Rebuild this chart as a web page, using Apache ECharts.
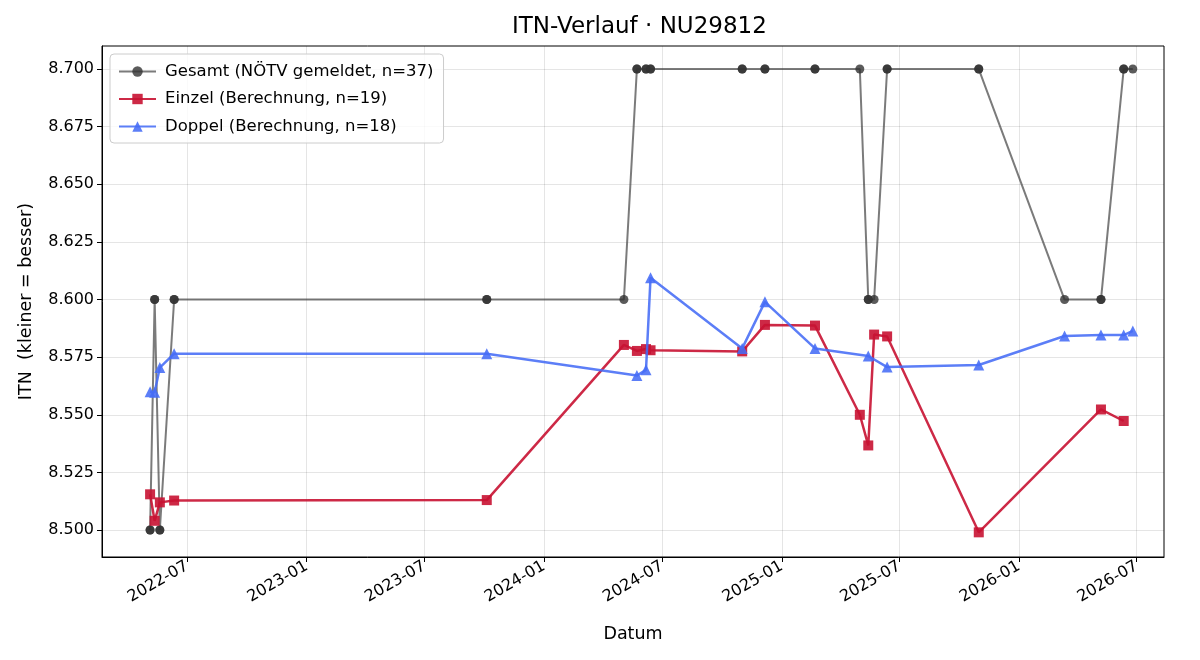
<!DOCTYPE html>
<html>
<head>
<meta charset="utf-8">
<title>ITN-Verlauf</title>
<script src="https://cdn.jsdelivr.net/npm/echarts@6/dist/echarts.min.js"></script>
<style>
  html, body { margin: 0; padding: 0; background: #fff; }
  #chart { width: 1200px; height: 660px; }
</style>
</head>
<body>
<div id="chart"></div>
<script>
// Gesamt (NÖTV gemeldet) – eine Meldung pro Einzel-/Doppel-Berechnung
const gesamtDates = [
  '2022-05-05', '2022-05-05', '2022-05-12', '2022-05-12', '2022-05-20', '2022-05-20',
  '2022-06-11', '2022-06-11', '2023-10-05', '2023-10-05', '2024-05-03', '2024-05-23',
  '2024-05-23', '2024-06-06', '2024-06-06', '2024-06-13', '2024-06-13', '2024-11-01',
  '2024-11-01', '2024-12-06', '2024-12-06', '2025-02-21', '2025-02-21', '2025-05-01',
  '2025-05-14', '2025-05-14', '2025-05-23', '2025-06-12', '2025-06-12', '2025-10-31',
  '2025-10-31', '2026-03-12', '2026-05-07', '2026-05-07', '2026-06-11', '2026-06-11',
  '2026-06-25'
]
const gesamtValues = [
  8.5, 8.5, 8.6, 8.6, 8.5, 8.5,
  8.6, 8.6, 8.6, 8.6, 8.6, 8.7,
  8.7, 8.7, 8.7, 8.7, 8.7, 8.7,
  8.7, 8.7, 8.7, 8.7, 8.7, 8.7,
  8.6, 8.6, 8.6, 8.7, 8.7, 8.7,
  8.7, 8.6, 8.6, 8.6, 8.7, 8.7,
  8.7
]

// Einzel (Berechnung)
const einzelDates = [
  '2022-05-05', '2022-05-12', '2022-05-20', '2022-06-11', '2023-10-05', '2024-05-03',
  '2024-05-23', '2024-06-06', '2024-06-13', '2024-11-01', '2024-12-06', '2025-02-21',
  '2025-05-01', '2025-05-14', '2025-05-23', '2025-06-12', '2025-10-31', '2026-05-07',
  '2026-06-11'
]
const einzelValues = [
  8.5155, 8.504, 8.512, 8.5128, 8.513, 8.5803,
  8.5777, 8.5785, 8.578, 8.5775, 8.589, 8.5887,
  8.550, 8.5367, 8.5848, 8.584, 8.499, 8.5523,
  8.5473
]

// Doppel (Berechnung)
const doppelDates = [
  '2022-05-05', '2022-05-12', '2022-05-20', '2022-06-11', '2023-10-05', '2024-05-23',
  '2024-06-06', '2024-06-13', '2024-11-01', '2024-12-06', '2025-02-21', '2025-05-14',
  '2025-06-12', '2025-10-31', '2026-03-12', '2026-05-07', '2026-06-11', '2026-06-25'
]
const doppelValues = [
  8.560, 8.5598, 8.5705, 8.5765, 8.5765, 8.567,
  8.5695, 8.6095, 8.5788, 8.599, 8.5788, 8.5755,
  8.5707, 8.5716, 8.5842, 8.5846, 8.5846, 8.5864
]

// Achsenbeschriftung
const xTickDates = [
  '2022-07-01', '2023-01-01', '2023-07-01', '2024-01-01', '2024-07-01',
  '2025-01-01', '2025-07-01', '2026-01-01', '2026-07-01'
]
const yTicks = [8.5, 8.525, 8.55, 8.575, 8.6, 8.625, 8.65, 8.675, 8.7]

const toPairs = (dates, values) => dates.map((d, i) => [Date.parse(d), values[i]])
const xTicks = xTickDates.map(d => Date.parse(d))

const font = 'DejaVu Sans, Liberation Sans, sans-serif'
const grayLine = 'rgba(60,60,60,0.68)'
const grayMark = 'rgba(50,50,50,0.8)'
const red = 'rgba(200,18,50,0.9)'
const blue = 'rgba(70,108,246,0.88)'

function fmtDate(v) {
  const d = new Date(v)
  const m = d.getUTCMonth() + 1
  return d.getUTCFullYear() + '-' + (m < 10 ? '0' + m : m)
}

const chart = echarts.init(document.getElementById('chart'))
chart.setOption({
  animation: false,
  backgroundColor: '#fff',
  textStyle: { fontFamily: font },
  title: {
    text: 'ITN-Verlauf · NU29812',
    left: 512,
    top: 16,
    padding: 0,
    textStyle: { fontFamily: font, fontSize: 23, fontWeight: 'normal', color: '#000' }
  },
  grid: {
    left: 102, right: 36, top: 46, bottom: 103,
    show: true, borderColor: '#000', borderWidth: 1,
    containLabel: false
  },
  legend: {
    orient: 'vertical',
    left: 110,
    top: 54,
    padding: [9, 10, 8, 8],
    itemWidth: 37,
    itemHeight: 13,
    itemGap: 10.5,
    backgroundColor: 'rgba(255,255,255,0.8)',
    borderColor: '#cccccc',
    borderWidth: 1,
    borderRadius: 4,
    textStyle: { fontFamily: font, fontSize: 16.5, color: '#000', lineHeight: 16, padding: [0, 0, 0, 4] },
    data: ['Gesamt (NÖTV gemeldet, n=37)', 'Einzel (Berechnung, n=19)', 'Doppel (Berechnung, n=18)']
  },
  xAxis: {
    type: 'value',
    min: Date.parse('2022-02-20'),
    max: Date.parse('2026-08-12'),
    name: 'Datum',
    nameLocation: 'middle',
    nameGap: 68,
    nameTextStyle: { fontFamily: font, fontSize: 17.5, color: '#000' },
    axisLine: { show: true, onZero: false, lineStyle: { color: '#000', width: 1 } },
    axisTick: { show: true, inside: false, length: 5, customValues: xTicks, lineStyle: { color: '#000' } },
    axisLabel: {
      customValues: xTicks,
      rotate: 30,
      margin: 8,
      fontFamily: font,
      fontSize: 16,
      color: '#000',
      hideOverlap: false,
      formatter: fmtDate
    },
    splitLine: { show: true, lineStyle: { color: 'rgba(0,0,0,0.1)', width: 1 } }
  },
  yAxis: {
    type: 'value',
    min: 8.4883,
    max: 8.7100,
    name: 'ITN  (kleiner = besser)',
    nameLocation: 'middle',
    nameGap: 67,
    nameTextStyle: { fontFamily: font, fontSize: 17.5, color: '#000' },
    axisLine: { show: true, lineStyle: { color: '#000', width: 1 } },
    axisTick: { show: true, inside: false, length: 5, customValues: yTicks, lineStyle: { color: '#000' } },
    axisLabel: {
      customValues: yTicks,
      margin: 8,
      fontFamily: font,
      fontSize: 16,
      color: '#000',
      formatter: v => v.toFixed(3)
    },
    splitLine: { show: true, lineStyle: { color: 'rgba(0,0,0,0.1)', width: 1 } }
  },
  series: [
    {
      name: 'Gesamt (NÖTV gemeldet, n=37)',
      type: 'line',
      data: toPairs(gesamtDates, gesamtValues),
      symbol: 'circle',
      symbolSize: 9,
      showAllSymbol: true,
      lineStyle: { color: grayLine, width: 2 },
      itemStyle: { color: grayMark, borderWidth: 0 },
      emphasis: { disabled: true },
      z: 2
    },
    {
      name: 'Einzel (Berechnung, n=19)',
      type: 'line',
      data: toPairs(einzelDates, einzelValues),
      symbol: 'rect',
      symbolSize: 10,
      showAllSymbol: true,
      lineStyle: { color: red, width: 2.5 },
      itemStyle: { color: red, borderWidth: 0 },
      emphasis: { disabled: true },
      z: 3
    },
    {
      name: 'Doppel (Berechnung, n=18)',
      type: 'line',
      data: toPairs(doppelDates, doppelValues),
      symbol: 'triangle',
      symbolSize: 11,
      showAllSymbol: true,
      lineStyle: { color: blue, width: 2.5 },
      itemStyle: { color: blue, borderWidth: 0 },
      emphasis: { disabled: true },
      z: 4
    }
  ]
})
</script>
</body>
</html>
